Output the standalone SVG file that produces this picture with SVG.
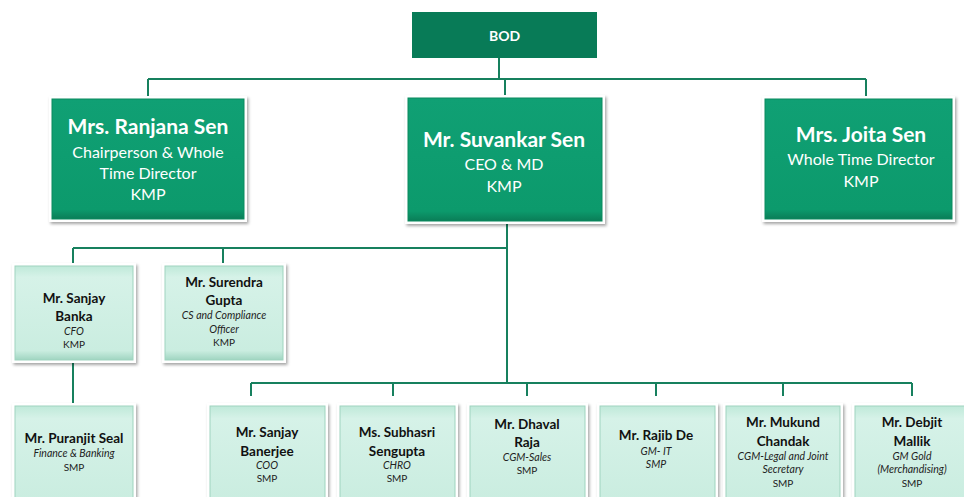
<svg xmlns="http://www.w3.org/2000/svg" width="964" height="497" viewBox="0 0 964 497">
<style>
text{font-family:Lato,"Open Sans","Liberation Sans",sans-serif;text-anchor:middle}
.frame{fill:#ffffff;filter:url(#sh)}
.dk{fill:url(#gd);stroke:#0a8a5e;stroke-width:1}
.lt{fill:url(#gl);stroke:#9fd4bf;stroke-width:1}
.wt{fill:#ffffff}
.t1{font-size:21px;font-weight:bold}
.t2{font-size:16px}
.b1{font-size:13.5px;font-weight:bold;fill:#111}
.s1{font-size:10.5px;font-style:italic;fill:#222}
.s2{font-size:10px;fill:#222}
.ln{stroke:#17805e;stroke-width:2;fill:none}
</style>
<defs>
<filter id="sh" x="-10%" y="-10%" width="130%" height="130%">
<feDropShadow dx="1.5" dy="2" stdDeviation="1.8" flood-color="#000" flood-opacity="0.35"/>
</filter>
<linearGradient id="gd" x1="0" y1="0" x2="0" y2="1">
<stop offset="0" stop-color="#10a074"/>
<stop offset="0.92" stop-color="#0c9a6c"/>
<stop offset="1" stop-color="#0a7d57"/>
</linearGradient>
<linearGradient id="gl" x1="0" y1="0" x2="0" y2="1">
<stop offset="0" stop-color="#bfe9d9"/>
<stop offset="0.12" stop-color="#d6f2e8"/>
<stop offset="0.9" stop-color="#caede0"/>
<stop offset="1" stop-color="#a0d5c1"/>
</linearGradient>
</defs>
<g id="connectors">
<path class="ln" d="M499 58V79M148 79H866M148 79V96M505 79V95M866 79V96"/>
<path class="ln" d="M507 224V383M73 248H507M73 248V263M223 248V263M73 363V403"/>
<path class="ln" d="M251 383H912M251 383V396M393 383V396M527 383V396M656 383V396M783 383V396M912 383V396"/>
</g>
<g id="bod">
<rect x="412" y="12" width="185" height="46" fill="#087b57"/>
<text x="504.5" y="41" class="wt" style="font-size:14px;font-weight:bold">BOD</text>
</g>
<g id="ranjana">
<rect class="frame" x="49" y="96" width="198" height="126"/>
<rect class="dk" x="52" y="99" width="192" height="120"/>
<text x="148" y="134" class="wt t1">Mrs. Ranjana Sen</text>
<text x="148" y="158" class="wt t2">Chairperson &amp; Whole</text>
<text x="148" y="179" class="wt t2">Time Director</text>
<text x="148" y="200" class="wt t2">KMP</text>
</g>
<g id="suvankar">
<rect class="frame" x="405" y="95" width="200" height="129"/>
<rect class="dk" x="408" y="98" width="194" height="123"/>
<text x="504" y="147" class="wt t1">Mr. Suvankar Sen</text>
<text x="504" y="170" class="wt t2">CEO &amp; MD</text>
<text x="504" y="192" class="wt t2">KMP</text>
</g>
<g id="joita">
<rect class="frame" x="762" y="96" width="193" height="126"/>
<rect class="dk" x="765" y="99" width="187" height="120"/>
<text x="861" y="142" class="wt t1">Mrs. Joita Sen</text>
<text x="861" y="165" class="wt t2">Whole Time Director</text>
<text x="861" y="187" class="wt t2">KMP</text>
</g>
<g id="banka">
<rect class="frame" x="12" y="263" width="124" height="100"/>
<rect class="lt" x="15" y="266" width="118" height="94"/>
<text x="74" y="303" class="b1">Mr. Sanjay</text>
<text x="74" y="321" class="b1">Banka</text>
<text x="74" y="335" class="s1">CFO</text>
<text x="74" y="348" class="s2">KMP</text>
</g>
<g id="gupta">
<rect class="frame" x="162" y="263" width="124" height="100"/>
<rect class="lt" x="165" y="266" width="118" height="94"/>
<text x="224" y="287" class="b1">Mr. Surendra</text>
<text x="224" y="305" class="b1">Gupta</text>
<text x="224" y="319" class="s1">CS and Compliance</text>
<text x="224" y="333" class="s1">Officer</text>
<text x="224" y="346" class="s2">KMP</text>
</g>
<g id="puranjit">
<rect class="frame" x="12" y="403" width="124" height="110"/>
<rect class="lt" x="15" y="406" width="118" height="104"/>
<text x="74" y="443" class="b1">Mr. Puranjit Seal</text>
<text x="74" y="457" class="s1">Finance &amp; Banking</text>
<text x="74" y="471" class="s2">SMP</text>
</g>
<g id="banerjee">
<rect class="frame" x="207" y="403" width="121" height="110"/>
<rect class="lt" x="210" y="406" width="115" height="104"/>
<text x="267" y="437" class="b1">Mr. Sanjay</text>
<text x="267" y="456" class="b1">Banerjee</text>
<text x="267" y="469" class="s1">COO</text>
<text x="267" y="482" class="s2">SMP</text>
</g>
<g id="subhasri">
<rect class="frame" x="337" y="403" width="121" height="110"/>
<rect class="lt" x="340" y="406" width="115" height="104"/>
<text x="397" y="437" class="b1">Ms. Subhasri</text>
<text x="397" y="456" class="b1">Sengupta</text>
<text x="397" y="469" class="s1">CHRO</text>
<text x="397" y="482" class="s2">SMP</text>
</g>
<g id="dhaval">
<rect class="frame" x="467" y="403" width="121" height="110"/>
<rect class="lt" x="470" y="406" width="115" height="104"/>
<text x="527" y="429" class="b1">Mr. Dhaval</text>
<text x="527" y="447" class="b1">Raja</text>
<text x="527" y="461" class="s1">CGM-Sales</text>
<text x="527" y="474" class="s2">SMP</text>
</g>
<g id="rajib">
<rect class="frame" x="597" y="403" width="121" height="110"/>
<rect class="lt" x="600" y="406" width="115" height="104"/>
<text x="656" y="440" class="b1">Mr. Rajib De</text>
<text x="656" y="455" class="s1">GM- IT</text>
<text x="656" y="468" class="s1">SMP</text>
</g>
<g id="mukund">
<rect class="frame" x="723" y="403" width="120" height="110"/>
<rect class="lt" x="726" y="406" width="114" height="104"/>
<text x="783" y="427" class="b1">Mr. Mukund</text>
<text x="783" y="446" class="b1">Chandak</text>
<text x="783" y="460" class="s1">CGM-Legal and Joint</text>
<text x="783" y="473" class="s1">Secretary</text>
<text x="783" y="487" class="s2">SMP</text>
</g>
<g id="debjit">
<rect class="frame" x="852" y="403" width="120" height="110"/>
<rect class="lt" x="855" y="406" width="114" height="104"/>
<text x="912" y="427" class="b1">Mr. Debjit</text>
<text x="912" y="446" class="b1">Mallik</text>
<text x="912" y="460" class="s1">GM Gold</text>
<text x="912" y="473" class="s1">(Merchandising)</text>
<text x="912" y="487" class="s2">SMP</text>
</g>
</svg>
